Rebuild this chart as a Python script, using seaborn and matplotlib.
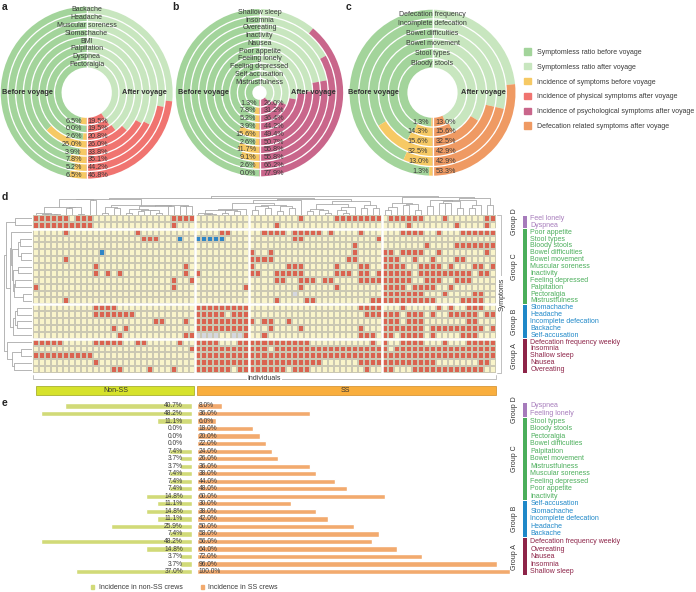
import numpy as np
import pandas as pd
import matplotlib
matplotlib.use("Agg")
import matplotlib.pyplot as plt
import seaborn as sns
from matplotlib.patches import Wedge, Rectangle, Patch
from matplotlib.colors import ListedColormap

sns.set_theme(style="white")
plt.rcParams["font.family"] = ["Liberation Sans", "DejaVu Sans"]
plt.rcParams["font.size"] = 5

# ---------------- data: panels a-c (inner ring first) ----------------
a_labels = ["Pectoralgia", "Dyspnea", "Palpitation", "BMI", "Stomachache",
            "Muscular soreness", "Headache", "Backache"]
a_before = [6.5, 0.0, 2.6, 26.0, 3.9, 7.8, 5.2, 6.5]
a_after = [19.5, 19.5, 20.8, 26.0, 33.8, 35.1, 44.2, 46.8]

b_labels = ["Mistrustfulness", "Self accusation", "Feeling depressed", "Feeling lonely",
            "Poor appetite", "Nausea", "Inactivity", "Overeating", "Insomnia", "Shallow sleep"]
b_before = [1.3, 7.8, 5.2, 3.9, 15.6, 2.6, 11.7, 9.1, 2.6, 0.0]
b_after = [26.0, 31.2, 36.4, 44.2, 49.4, 50.7, 55.8, 55.8, 66.2, 77.9]

c_labels = ["Bloody stools", "Stool types", "Bowel movement", "Bowel difficulties",
            "Incomplete defecation", "Defecation frequency"]
c_before = [1.3, 14.3, 15.6, 32.5, 13.0, 1.3]
c_after = [13.0, 15.6, 32.5, 42.9, 42.9, 53.3]

legend_labels = ["Symptomless ratio before voyage", "Symptomless ratio after voyage",
                 "Incidence of symptoms before voyage", "Incidence of physical symptoms after voyage",
                 "Incidence of psychological symptoms after voyage",
                 "Defecation related symptoms after voyage"]

# ---------------- data: panel d heatmap ----------------
# '.' none, 'x' symptom, 'b' blue cell, 'g' grey cell
# blocks: Non-SS (27) | SS (9) | SS (22) | SS (19)
d_rows = ["Feel lonely", "Dyspnea", "Poor appetite", "Stool types", "Bloody stools",
          "Bowel difficulties", "Bowel movement", "Muscular soreness", "Inactivity",
          "Feeling depressed", "Palpitation", "Pectoralgia", "Mistrustfulness",
          "Stomachache", "Headache", "Incomplete defecation", "Backache", "Self-accusation",
          "Defecation frequency weekly", "Insomnia", "Shallow sleep", "Nausea", "Overeating"]
d_groups = ["D"] * 2 + ["C"] * 11 + ["B"] * 5 + ["A"] * 5
d_cells = [
    "xxxxxx.xxx.............xxxx|.........|........x.....xxxxxxxx|.xxxxxx...x......xx",
    "xxxxxxxxxx.............x...|.........|....x.................|....x.......x....x.",
    ".....x...........x.........|....xx...|..xxxx.xxxxx.x....x...|...xxxx..x...xxxxxx",
    "..................xxx...b..|bbbbb....|.......xx............x|...................",
    "...........................|.........|.................x....|.......x....xxxxxxx",
    "...........b...............|.........|x..x.............x....|xx.xxxx..x.......x.",
    ".....x.....................|.........|xxxx............xx....|xxx..x..x...xx.....",
    "..........x..............x.|.........|x.....xxx.....x...xx..|xxxx..xxxx.x...xx.x",
    "..........x.x.x..........x.|x........|xx..xxxxx.....xxx.xx.x|xxxxx.xxxxxxxxx.xx.",
    ".......................x..x|.........|....xx..xxx.xx....xxxx|xxxxx..xxx..xxx....",
    "x......................x...|........x|........x.....x.......|xxxx.xxxx..x.......",
    "...........................|.........|.......g..............|xxxxxxx...x....xx..",
    ".....x.....................|.........|....x....xx.........xx|xxxxxxxxx....xxxx..",
    "..........xxxx.............|xxxxxxxxx|..................xxxx|...x.....x.x..xxx..",
    "..........xxxxxxx..........|xxxxx.xxx|...................xxx|xxx.xxx.x..xxxxx.xx",
    "....................xx...x.|xxxxxxxxx|x.xx..x...............|xxx.xxx.......xx...",
    ".............x.x...........|xxxxxxxxx|...x....x.........x...|xxxxxxx.xxxxxxxxx.x",
    "..............x..........xx|gggg..ggx|..x...............xxx.|xx.xxxx.x....xxx...",
    "xxxxx.....xxxxx..xx.....x..|xxxx...xx|xxxxxxxxxx..........x.|x..xxxx...x...xxxxx",
    "..........................x|xxxxxxxxx|xxx.xxxxxxxxxxxxxxxxxx|x.xxxxxxxxxxxxxxxxx",
    "xxxxxxxxxx.................|xxxxxxxxx|xxxxxxxxxxxxxxxxxxxxxx|xxxxxxxxxxxxxxxxxxx",
    "..........x................|xxxxxxxxx|xxxxxxxxxxxx......xxxx|xxxxxxxxx.......xx.",
    ".............xx....x...x...|xxxxxx.xx|xxxxxx.xxx.........x..|xx...xxxxxxxxxxxx..",
]
code = {".": 0, "x": 1, "b": 2, "g": 3}
d_matrix = np.array([[code[ch] for ch in r.replace("|", "")] for r in d_cells])
block_sizes = [len(p) for p in d_cells[0].split("|")]

# ---------------- data: panel e ----------------
e_labels = ["Dyspnea", "Feeling lonely", "Stool types", "Bloody stools", "Pectoralgia",
            "Bowel difficulties", "Palpitation", "Bowel movement", "Mistrustfulness",
            "Muscular soreness", "Feeling depressed", "Poor appetite", "Inactivity",
            "Self-accusation", "Stomachache", "Incomplete defecation", "Headache", "Backache",
            "Defecation frequency weekly", "Overeating", "Nausea", "Insomnia", "Shallow sleep"]
e_groups = ["D"] * 2 + ["C"] * 11 + ["B"] * 5 + ["A"] * 5
e_nonss = [40.7, 48.2, 11.1, 0.0, 0.0, 0.0, 7.4, 3.7, 3.7, 7.4, 7.4, 7.4, 14.8,
           11.1, 14.8, 11.1, 25.9, 7.4, 48.2, 14.8, 3.7, 3.7, 37.0]
e_ss = [8.0, 36.0, 6.0, 18.0, 20.0, 22.0, 24.0, 26.0, 36.0, 38.0, 44.0, 48.0, 60.0,
        30.0, 38.0, 42.0, 50.0, 58.0, 56.0, 64.0, 72.0, 96.0, 100.0]

# ---------------- colours ----------------
c_before_ok = "#a3d49b"
c_after_ok = "#c8e6bf"
c_yellow = "#f6c964"
c_phys = "#f07470"
c_psych = "#c9668b"
c_defec = "#ef9a63"
group_col = {"D": "#a67bbb", "C": "#4bae5b", "B": "#1f88c8", "A": "#8d2448"}
txt = "#3a3a3a"

W, H = 696, 592
fig = plt.figure(figsize=(W / 100, H / 100), dpi=100)


def axes_px(x0, y0, x1, y1):
    return fig.add_axes([x0 / W, 1 - y1 / H, (x1 - x0) / W, (y1 - y0) / H])


# overlay in pixel coordinates (y downwards)
ov = axes_px(0, 0, W, H)
ov.set_xlim(0, W)
ov.set_ylim(H, 0)
ov.axis("off")
ov.set_zorder(5)


def donut(cx, cy, r0, step, labels, before, after, col_after, lx, rx, poff):
    gap = 1.3
    n = len(labels)
    for i, (lab, pb, pa) in enumerate(zip(labels, before, after)):
        rm = r0 + i * step
        ro = rm + (step - gap) / 2
        w = step - gap
        yb = 180 * pb / 100
        ya = 180 * pa / 100
        # screen angles (ccw) -> data angles with inverted y: negate and swap
        segs = [(90, 270 - yb, c_before_ok), (270 - yb, 270, c_yellow),
                (-90 + ya, 90, c_after_ok), (-90, -90 + ya, col_after)]
        for t1, t2, col in segs:
            if t2 - t1 > 0:
                ov.add_patch(Wedge((cx, cy), ro, -t2, -t1, width=w, facecolor=col,
                                   edgecolor="none"))
        ov.text(cx, cy - rm, lab, ha="center", va="center", fontsize=5, color=txt)
        ov.text(cx - poff[0], cy + rm, f"{pb:.1f}%", ha="right", va="center",
                fontsize=5.2, color=txt)
        ov.text(cx + poff[1], cy + rm, f"{pa:.1f}%", ha="left", va="center",
                fontsize=5.2, color=txt)
    rout = r0 + (n - 1) * step + step / 2
    rin = r0 - step / 2
    ov.plot([cx, cx], [cy - rout - 1, cy - rin + 1], color="white", lw=0.7, zorder=1.5)
    ov.plot([cx, cx], [cy + rin - 1, cy + rout + 1], color="white", lw=0.9, zorder=1.5)
    ov.text(lx, cy, "Before voyage", ha="center", va="center", fontsize=5.3,
            fontweight="bold", color="#333333")
    ov.text(rx, cy, "After voyage", ha="center", va="center", fontsize=5.3,
            fontweight="bold", color="#333333")


donut(86.7, 92.7, 28.4, 7.76, a_labels, a_before, a_after, c_phys, 27.5, 144.5, (5, 1))
donut(259.5, 92.7, 10.4, 7.78, b_labels, b_before, b_after, c_psych, 203.5, 313, (3, 4))
donut(432.5, 92.7, 29.4, 9.86, c_labels, c_before, c_after, c_defec, 373, 483.5, (4, 3))

handles = [Patch(color=c) for c in [c_before_ok, c_after_ok, c_yellow, c_phys, c_psych, c_defec]]
leg_top = ov.legend(handles, legend_labels, loc="upper left", bbox_to_anchor=(524, 48.5),
                    bbox_transform=ov.transData, frameon=False, fontsize=5, handlelength=1.0,
                    handleheight=1.0, labelspacing=1.05, handletextpad=0.85, borderaxespad=0,
                    borderpad=0, labelcolor=txt)
ov.add_artist(leg_top)

for lab, x, y in [("a", 2, 7), ("b", 172, 7), ("c", 346, 7), ("d", 2, 197), ("e", 2, 403)]:
    ov.text(x, y, lab, ha="left", va="center", fontsize=7.5, fontweight="bold", color="#222222")

# ---------------- panel d ----------------
hm_x0, hm_x1, hm_y0, hm_y1 = 33, 496, 215, 373
ax_hm = axes_px(hm_x0, hm_y0, hm_x1, hm_y1)
cmap = ListedColormap(["#f9f4ca", "#da6350", "#2f86c6", "#d5d7de"])
df_hm = pd.DataFrame(d_matrix, index=d_rows)
sns.heatmap(df_hm, ax=ax_hm, cmap=cmap, vmin=-0.5, vmax=3.5, cbar=False,
            linewidths=0.3, linecolor="#cbc8b3", xticklabels=False, yticklabels=False)
for b in np.cumsum(block_sizes)[:-1]:
    ax_hm.axvline(b, color="white", lw=1.8)
gcounts = pd.Series(d_groups).value_counts(sort=False)
for b in np.cumsum(gcounts.values)[:-1]:
    ax_hm.axhline(b, color="white", lw=1.8)
ax_hm.set_xlabel("")
ax_hm.set_ylabel("")


def adj_tree(M, blocks):
    """Agglomerative clustering that only joins neighbouring clusters (keeps leaf order)."""
    cl = [dict(m=[i], x=i + 0.5, h=0.0, g=blocks[i]) for i in range(M.shape[0])]
    segs, uid = [], -1
    while len(cl) > 1:
        best = None
        for k in range(len(cl) - 1):
            A, B = M[cl[k]["m"]], M[cl[k + 1]["m"]]
            d = np.abs(A[:, None, :] - B[None, :, :]).mean()
            score = d + (0 if cl[k]["g"] == cl[k + 1]["g"] else 10.0)
            if best is None or score < best[0]:
                best = (score, k, d)
        _, k, d = best
        a, b = cl[k], cl[k + 1]
        h = max(d, a["h"], b["h"]) + 0.015
        segs.append(([a["x"], a["x"], b["x"], b["x"]], [a["h"], h, h, b["h"]]))
        cl[k:k + 2] = [dict(m=a["m"] + b["m"], x=(a["x"] + b["x"]) / 2, h=h, g=uid)]
        uid -= 1
    return segs


binm = (d_matrix == 1).astype(float)
col_blocks = np.repeat(np.arange(len(block_sizes)), block_sizes)
row_blocks = pd.factorize(pd.Series(d_groups))[0]

ax_top = axes_px(hm_x0, 196, hm_x1, hm_y0)
top_segs = adj_tree(binm.T, col_blocks)
for xs, ys in top_segs:
    ax_top.plot(xs, ys, color="#a9a9a9", lw=0.6)
ax_top.set_xlim(0, binm.shape[1])
ax_top.set_ylim(0, max(max(s[1]) for s in top_segs) * 1.02)
ax_top.axis("off")

ax_left = axes_px(3, hm_y0, hm_x0 - 1, hm_y1)
left_segs = adj_tree(binm, row_blocks)
for xs, ys in left_segs:
    ax_left.plot(ys, xs, color="#a9a9a9", lw=0.6)
ax_left.set_ylim(binm.shape[0], 0)
ax_left.set_xlim(max(max(s[1]) for s in left_segs) * 1.02, 0)
ax_left.axis("off")

row_h = (hm_y1 - hm_y0) / len(d_rows)


def group_side(labels, groups, ytop, pitch):
    start = 0
    for g in pd.unique(pd.Series(groups)):
        n = groups.count(g)
        y0 = ytop + start * pitch
        y1 = ytop + (start + n) * pitch
        ov.add_patch(Rectangle((522.5, y0 + 0.5), 4.7, y1 - y0 - 1, facecolor=group_col[g],
                               edgecolor="none"))
        ov.text(515, (y0 + y1) / 2, f"Group {g}", rotation=90, ha="center", va="center",
                fontsize=5, color="#333333")
        for i in range(n):
            ov.text(530.5, y0 + (i + 0.5) * pitch, labels[start + i], ha="left",
                    va="center", fontsize=5, color=group_col[g])
        start += n


group_side(d_rows, d_groups, hm_y0, row_h)

# brackets and axis titles
ov.plot([497, 501, 501, 497], [hm_y0, hm_y0, hm_y1, hm_y1], color="#b5b5b5", lw=0.6)
ov.text(502.5, (hm_y0 + hm_y1) / 2, "Symptoms", rotation=90, ha="center", va="center",
        fontsize=5, color="#333333", bbox=dict(facecolor="white", edgecolor="none", pad=0.6))
ov.plot([hm_x0, hm_x0, hm_x1, hm_x1], [375, 378.5, 378.5, 375], color="#b5b5b5", lw=0.6)
ov.text((hm_x0 + hm_x1) / 2, 378.5, "Individuals", ha="center", va="center", fontsize=5,
        color="#333333", bbox=dict(facecolor="white", edgecolor="none", pad=0.6))

ss_split = hm_x0 + (hm_x1 - hm_x0) * block_sizes[0] / sum(block_sizes)
ov.add_patch(Rectangle((36, 385.5), ss_split - 37, 9, facecolor="#d6e22c", edgecolor="#9aa51c",
                       lw=0.5))
ov.add_patch(Rectangle((ss_split + 1.5, 385.5), hm_x1 - ss_split - 1.5, 9, facecolor="#f9ae3d",
                       edgecolor="#d08a24", lw=0.5))
ov.text((36 + ss_split) / 2, 390, "Non-SS", ha="center", va="center", fontsize=5, color="#333333")
ov.text((ss_split + hm_x1) / 2, 390, "SS", ha="center", va="center", fontsize=5, color="#333333")

# ---------------- panel e ----------------
e_top, e_pitch = 402.2, 7.53
e_bot = e_top + e_pitch * len(e_labels)
df_e = pd.DataFrame({"symptom": e_labels, "nonss": e_nonss, "ss": e_ss})

ax_l = axes_px(35.5, e_top, 192, e_bot)
sns.barplot(data=df_e, x="nonss", y="symptom", ax=ax_l, color="#d1da78", saturation=1,
            width=0.7, orient="h")
ax_l.set_xlim(50, 0)
ax_r = axes_px(197, e_top, 510, e_bot)
sns.barplot(data=df_e, x="ss", y="symptom", ax=ax_r, color="#f2aa6e", saturation=1,
            width=0.7, orient="h")
ax_r.set_xlim(0, 100)
for ax in (ax_l, ax_r):
    ax.set_ylim(len(e_labels) - 0.5, -0.5)
    ax.axis("off")
for i, (vl, vr) in enumerate(zip(e_nonss, e_ss)):
    ax_l.text(2.9, i, f"{vl:.1f}%", ha="right", va="center", fontsize=4.8, color=txt)
    ax_r.text(0.5, i, f"{vr:.1f}%", ha="left", va="center", fontsize=4.8, color=txt)

group_side(e_labels, e_groups, e_top, e_pitch)

leg_h = [Patch(color="#d1da78"), Patch(color="#f2aa6e")]
ov.legend(leg_h, ["Incidence in non-SS crews", "Incidence in SS crews"], loc="center left",
          bbox_to_anchor=(91, 587.5), bbox_transform=ov.transData, ncol=2, frameon=False,
          fontsize=5, handlelength=0.5, handleheight=0.5, handletextpad=0.6,
          columnspacing=2.6, borderaxespad=0, borderpad=0, labelcolor=txt)

fig.savefig("out.png", dpi=100)
